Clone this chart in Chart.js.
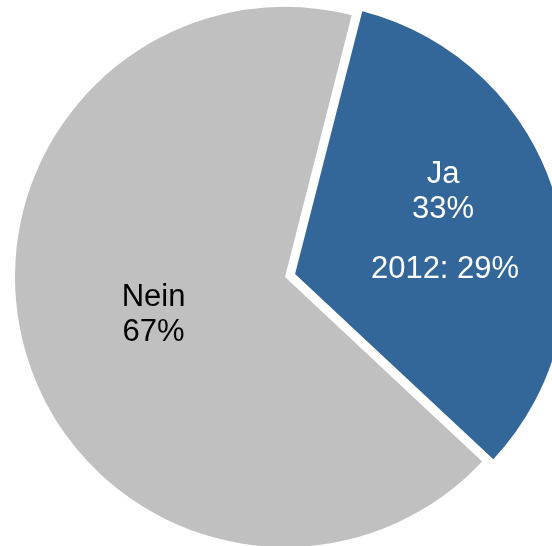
<!DOCTYPE html>
<html>
<head>
<meta charset="utf-8">
<script src="https://cdn.jsdelivr.net/npm/chart.js@4/dist/chart.umd.min.js"></script>
<style>
  html, body { margin: 0; padding: 0; background: #ffffff; }
  #wrap { width: 552px; height: 546px; }
</style>
</head>
<body>
<div id="wrap"><canvas id="chart" width="552" height="546"></canvas></div>
<script>
// Answer categories and their shares (percent)
const categories = ['Ja', 'Nein'];
const shares = [33, 67];
// Comparison value from the previous survey, shown under the current share
const previousNotes = ['2012: 29%', ''];
const sliceColors = ['#336699', '#C0C0C0'];
const labelColors = ['#ffffff', '#000000'];

// Distance an arc is actually pushed out by Chart.js for a given offset option
function pushedDistance(arc) {
  const offset = (arc.options.offset || 0) / 4;
  const fix = 1 - Math.sin(Math.min(Math.PI, arc.circumference || 0));
  return offset * (1 + fix);
}

// Writes name, share and optional note inside each slice
const sliceLabels = {
  id: 'sliceLabels',
  afterDatasetsDraw(chart, args, opts) {
    const ctx = chart.ctx;
    const meta = chart.getDatasetMeta(0);
    ctx.save();
    ctx.font = opts.font;
    ctx.textAlign = 'center';
    ctx.textBaseline = 'middle';
    meta.data.forEach((arc, i) => {
      const p = arc.getProps(['x', 'y', 'startAngle', 'endAngle', 'outerRadius']);
      const place = opts.placement[i];
      const ang = p.startAngle + (p.endAngle - p.startAngle) * place.t;
      const mid = (p.startAngle + p.endAngle) / 2;
      const off = pushedDistance(arc);
      const ox = p.x + Math.cos(mid) * off;
      const oy = p.y + Math.sin(mid) * off;
      const r = p.outerRadius * place.f;
      const cx = ox + Math.cos(ang) * r;
      const cy = oy + Math.sin(ang) * r;
      const note = previousNotes[i];
      const lh = opts.lineHeight;
      const gap = opts.noteGap;
      const total = note ? lh * 2 + gap : lh;
      const y = cy - total / 2;
      ctx.fillStyle = labelColors[i];
      ctx.fillText(categories[i], cx, y);
      ctx.fillText(shares[i] + '%', cx, y + lh);
      if (note) ctx.fillText(note, cx + 2, y + lh + gap + lh);
    });
    ctx.restore();
  }
};

new Chart(document.getElementById('chart'), {
  type: 'pie',
  data: {
    labels: categories,
    datasets: [{
      data: shares,
      backgroundColor: sliceColors,
      borderWidth: 0,
      offset: [42, 0],
      hoverOffset: 0,
      clip: false
    }]
  },
  options: {
    responsive: false,
    animation: false,
    rotation: 14.3,
    radius: 270,
    layout: { padding: { left: 18, top: 8 } },
    events: [],
    plugins: {
      legend: { display: false },
      tooltip: { enabled: false },
      sliceLabels: {
        font: '31px "Liberation Sans", Arial, sans-serif',
        lineHeight: 35,
        noteGap: 25,
        placement: [{ t: 0.474, f: 0.576 }, { t: 0.5, f: 0.507 }]
      }
    }
  },
  plugins: [sliceLabels]
});
</script>
</body>
</html>
